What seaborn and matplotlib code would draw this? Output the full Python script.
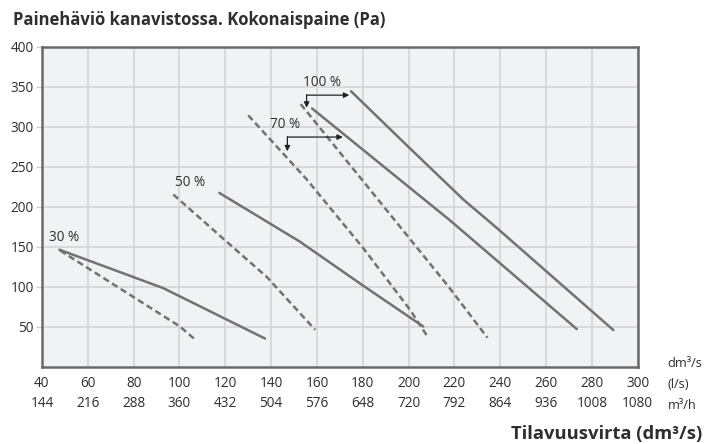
import matplotlib
matplotlib.use("Agg")
import matplotlib.pyplot as plt
import seaborn as sns
import pandas as pd

# ---- data (flow l/s, pressure Pa) ----
flow_30_solid = [47.6, 92.9, 137.3]
pa_30_solid = [146, 98, 35]
flow_30_dash = [47.9, 100.2, 106.3]
pa_30_dash = [145, 50, 35]

flow_50_solid = [117.4, 152.6, 180.2, 206.4]
pa_50_solid = [217, 156, 101, 50]
flow_50_dash = [97.3, 120.6, 138.1, 159.2]
pa_50_dash = [215, 156, 112, 46]

flow_70_solid = [157.9, 218.1, 225.4, 273.4]
pa_70_solid = [322.5, 182.6, 164.7, 46.8]
flow_70_dash = [130.0, 155.5, 180.2, 200.6, 207.9]
pa_70_dash = [314, 234, 148, 71, 39]

flow_100_solid = [174.9, 200.3, 223.9, 238.5, 289.4]
pa_100_solid = [344, 273.5, 208.7, 173.2, 45.5]
flow_100_dash = [152.9, 179.5, 217.4, 234.4]
pa_100_dash = [328, 234, 100, 36]

ls_ticks = [40, 60, 80, 100, 120, 140, 160, 180, 200, 220, 240, 260, 280, 300]
m3h_ticks = ["144", "216", "288", "360", "432", "504", "576", "648", "720",
             "792", "864", "936", "1008", "1080"]
pa_ticks = [50, 100, 150, 200, 250, 300, 350, 400]

title = "Painehäviö kanavistossa. Kokonaispaine (Pa)"
xlabel = "Tilavuusvirta (dm³/s)"

curves = [
    ("30s", "solid", flow_30_solid, pa_30_solid),
    ("30d", "dashed", flow_30_dash, pa_30_dash),
    ("50s", "solid", flow_50_solid, pa_50_solid),
    ("50d", "dashed", flow_50_dash, pa_50_dash),
    ("70s", "solid", flow_70_solid, pa_70_solid),
    ("70d", "dashed", flow_70_dash, pa_70_dash),
    ("100s", "solid", flow_100_solid, pa_100_solid),
    ("100d", "dashed", flow_100_dash, pa_100_dash),
]
rows = []
for name, kind, fx, py in curves:
    for a, b in zip(fx, py):
        rows.append({"curve": name, "kind": kind, "flow": a, "pa": b})
df = pd.DataFrame(rows)

sns.set_theme(style="white")
plt.rcParams["font.family"] = ["Open Sans", "DejaVu Sans"]

TXT = "#2e2e2e"
LINE = "#727272"

fig = plt.figure(figsize=(7.06, 4.44), dpi=100)
ax = fig.add_axes([42 / 706, 1 - 366.5 / 444, (637.7 - 42) / 706, (366.5 - 46.5) / 444])
ax.set_facecolor("#f1f2f4")

sns.lineplot(data=df, x="flow", y="pa", units="curve", style="kind",
             estimator=None, sort=False, color=LINE, linewidth=1.8,
             dashes={"solid": "", "dashed": (2.6, 1.5)}, legend=False, ax=ax)

ax.set_xlim(40, 300)
ax.set_ylim(0, 400)
ax.set_xticks(ls_ticks)
ax.set_xticklabels([f"{a}\n{b}" for a, b in zip(ls_ticks, m3h_ticks)])
ax.set_yticks(pa_ticks)
ax.set_yticklabels([str(v) for v in pa_ticks])
ax.grid(True, color="#d2d2d5", linewidth=1.1)
ax.set_axisbelow(True)
ax.tick_params(axis="x", length=0, pad=6.5, labelsize=9.8, colors=TXT)
ax.tick_params(axis="y", length=4, width=1, color="#cfcfd2", pad=2,
               labelsize=9.8, labelcolor=TXT, left=True)
for lab in ax.get_xticklabels():
    lab.set_linespacing(1.5)
for sp in ax.spines.values():
    sp.set_visible(True)
    sp.set_color("#6a6a6a")
    sp.set_linewidth(1.8)
ax.set_xlabel("")
ax.set_ylabel("")

# percent labels
for txt, x, y in [("30 %", 43.0, 152), ("50 %", 98.0, 221), ("70 %", 139.5, 293), ("100 %", 154.0, 345.5)]:
    ax.text(x, y, txt, fontsize=9.8, color=TXT, ha="left", va="bottom")

ap = dict(arrowstyle="-|>", color="#222222", lw=0.9, mutation_scale=8,
          shrinkA=0, shrinkB=0)
# 70 %
ax.annotate("", xy=(171.3, 286.8), xytext=(147.1, 286.8), arrowprops=ap)
ax.annotate("", xy=(147.1, 269.0), xytext=(147.1, 287.3), arrowprops=ap)
# 100 %
ax.annotate("", xy=(174.1, 339.2), xytext=(155.5, 339.2), arrowprops=ap)
ax.annotate("", xy=(155.5, 323.5), xytext=(155.5, 339.7), arrowprops=ap)

fig.text(13 / 706, 1 - 20 / 444, title, fontsize=12, fontweight="bold",
         color=TXT, ha="left", va="center")
fig.text(667 / 706, 1 - 363 / 444, "dm³/s", fontsize=9.2, color=TXT, ha="left", va="center")
fig.text(668 / 706, 1 - 384 / 444, "(l/s)", fontsize=9.2, color=TXT, ha="left", va="center")
fig.text(668 / 706, 1 - 405 / 444, "m³/h", fontsize=9.2, color=TXT, ha="left", va="center")
fig.text(702 / 706, 1 - 434 / 444, xlabel, fontsize=13.2, fontweight="bold",
         color=TXT, ha="right", va="center")

fig.savefig("out.png", dpi=100)
